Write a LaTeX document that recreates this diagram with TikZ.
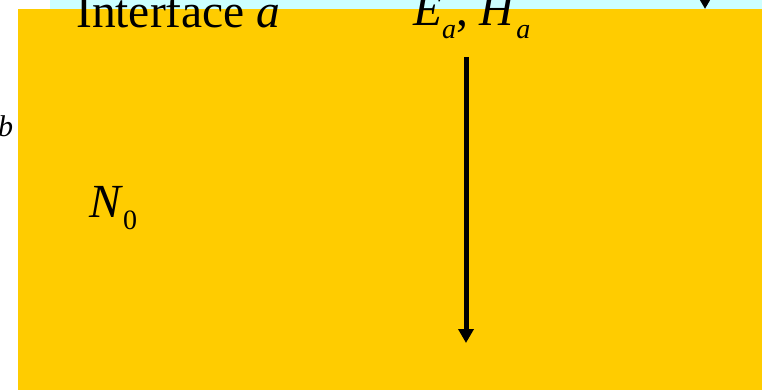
\documentclass[tikz,border=0pt]{standalone}
\usepackage{fontspec}
\setmainfont{Liberation Serif}
\usetikzlibrary{arrows.meta}
\definecolor{gold}{HTML}{FFCC00}
\definecolor{paleCyan}{HTML}{CCFFFF}
\newcommand{\bigtxt}{\fontsize{47.5}{50}\selectfont}
\newcommand{\subtxt}[1]{\raisebox{-0.27em}{\fontsize{28}{30}\selectfont #1}}
\begin{document}
\begin{tikzpicture}[x=1pt,y=-1pt,
  lbl/.style={inner sep=0pt,anchor=base west,font=\bigtxt},
  fieldarrow/.style={line width=5pt,-{Triangle[length=14pt,width=15pt]}}]
\useasboundingbox (0,0) rectangle (762,390);
\fill[paleCyan] (50,0) rectangle (762,9);
\fill[gold] (18,9) rectangle (762,390);
\node[lbl] (iface) at (76,28) {Interface \textit{a}};
\node[lbl] (eh) at (413,26) {\textit{E}\subtxt{\textit{a}}, \textit{H}\subtxt{\textit{a}}};
\node[lbl] (n0) at (89,217) {\textit{N}\subtxt{0}};
\node[lbl,font=\fontsize{30}{32}\selectfont] (bsub) at (-2,137) {\textit{b}};
\coordinate (a1s) at (466,57);
\coordinate (a1e) at (466,343);
\coordinate (a2s) at (705,-30);
\coordinate (a2e) at (705,9);
\draw[fieldarrow] (a1s) -- (a1e);
\draw[fieldarrow] (a2s) -- (a2e);
\end{tikzpicture}
\end{document}
